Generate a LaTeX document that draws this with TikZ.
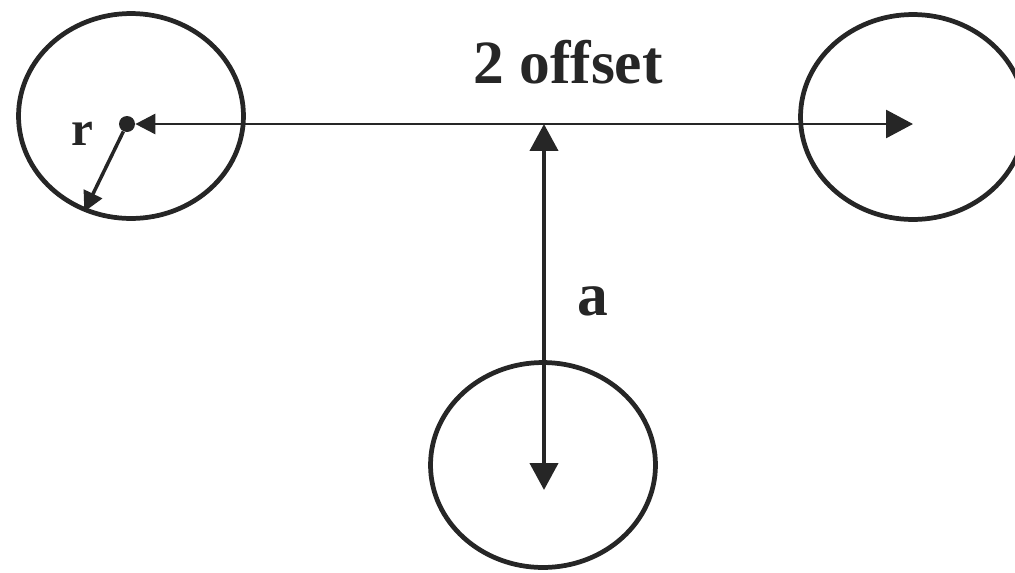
\documentclass[tikz,border=0pt]{standalone}
\usepackage{fontspec}
\setmainfont{Liberation Serif}
\usetikzlibrary{shapes.geometric, arrows.meta}

\tikzset{
    bigtip/.tip={Triangle[length=0.54cm, width=0.56cm]},
    smalltip/.tip={Triangle[length=0.4cm, width=0.4cm]}
}

\begin{document}
\begin{tikzpicture}[
    x=0.02cm, y=-0.02cm,
    font=\bfseries\fontsize{35}{40}\selectfont,
    ring/.style={ellipse, draw=black!85, line width=2.7pt, minimum width=4.5cm, minimum height=4.1cm, inner sep=0pt},
    hub/.style={circle, fill=black!85, minimum size=0.32cm, inner sep=0pt},
    arr/.style={line width=1.6pt, draw=black!85, fill=black!85},
    lbl/.style={anchor=base, text=black!85, inner sep=0pt}
]
\clip (0,0) rectangle (1015,572);
\node[ring] (lring) at (131,116) {};
\node[ring] (rring) at (913,117) {};
\node[ring] (bring) at (543,465) {};
\node[hub] (hub) at (127,124) {};
\coordinate (rtip) at (913,124);
\coordinate (cross) at (544,124);
\coordinate (btip) at (544,490);
\draw[arr, {smalltip}-{bigtip}] (hub) -- (rtip);
\draw[arr, line width=2.4pt, {bigtip}-{bigtip}] (cross) -- (btip);
\draw[arr, line width=2pt, -{smalltip}] (hub) -- (lring.244);
\node[lbl] (offlbl) at (568,83) {2 offset};
\node[lbl] (alabel) at (593,315) {a};
\node[lbl, font=\bfseries\fontsize{28}{30}\selectfont] (rlabel) at (82,145) {r};
\end{tikzpicture}
\end{document}
